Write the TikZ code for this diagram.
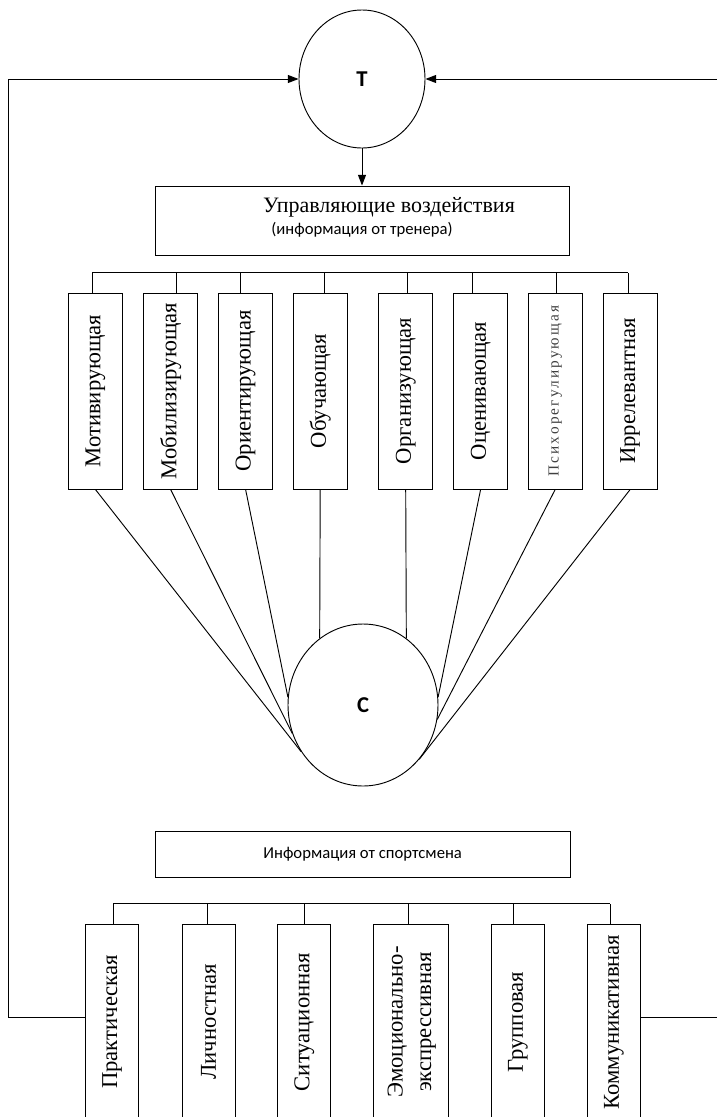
\documentclass[tikz,border=0pt]{standalone}
\usepackage{fontspec}
\setmainfont{Liberation Serif}
\newfontfamily\calibrifont{Carlito}
\newfontfamily\spacedfont[LetterSpace=14]{Liberation Serif}
\usepackage{graphicx}
\usetikzlibrary{arrows.meta,shapes.geometric,calc}

\tikzset{
  vbox/.style={draw, inner sep=0pt, minimum width=40.5pt, minimum height=147pt},
  hbox/.style={draw, inner sep=0pt, minimum width=311pt},
  oval/.style={draw, ellipse, inner sep=0pt},
  arr/.style={-{Triangle[length=8pt,width=6pt]}},
}
\newcommand{\vlabel}[1]{\rotatebox{90}{\fontsize{17}{21.5}\selectfont #1}}

\begin{document}
\begin{tikzpicture}[x=0.75pt,y=0.75pt,yscale=-1,xscale=1,line width=0.7pt]
\useasboundingbox (0,0) rectangle (717,1117);
\clip (0,0) rectangle (717,1117);

%Shape: Ellipse (trainer)
\node[oval, minimum width=94.5pt, minimum height=103.5pt] (T) at (362,79) {\calibrifont\bfseries\fontsize{17}{19}\selectfont Т};
%Shape: Rectangle
\node[hbox, minimum height=51.75pt] (ctrl) at (362.5,220.5) {};
% Text Node
\node (ctrlA) at (389,207) {\fontsize{16.5}{18}\selectfont Управляющие воздействия};
% Text Node
\node (ctrlB) at (362,230) {\calibrifont\fontsize{12.5}{14}\selectfont (информация от тренера)};
%Straight Lines
\draw[arr] (T.south) -- (T.south |- ctrl.north);

%Shape: Rectangle (upper row)
\foreach \n/\x/\txt in {1/95.4/Мотивирующая,2/170.6/Мобилизирующая,3/245.6/Ориентирующая,4/320.2/Обучающая,
    5/405.7/Организующая,6/480.6/Оценивающая,
    7/555.2/{{\spacedfont\fontsize{11.5}{14}\selectfont\color{black!75}Психорегулирующая}},8/630.2/Иррелевантная}
  \node[vbox] (m\n) at (\x,391) {\vlabel{\txt}};
%Straight Lines
\draw ($(m1.north)+(-3,-20)$) -- ($(m8.north)+(-2,-20)$);
\foreach \n/\dx in {1/-3,2/6,3/-5,4/4,5/2,6/-8,7/1,8/-2}
  \draw ($(m\n.north)+(\dx,0)$) -- ++(0,-20);

%Shape: Ellipse (athlete)
\node[oval, minimum width=112.5pt, minimum height=121.5pt] (C) at (363,705) {\calibrifont\bfseries\fontsize{17}{19}\selectfont С};
%Straight Lines
\foreach \n/\a in {1/217,2/202,3/174,4/123,5/57,6/6,7/349,8/316}
  \draw (m\n.south) -- (C.\a);

%Shape: Rectangle
\node[hbox, minimum height=34pt] (info) at (362.7,854.4) {\calibrifont\fontsize{12.5}{14}\selectfont Информация от спортсмена};

%Shape: Rectangle (lower row)
\foreach \n/\x/\txt in {1/112/Практическая,2/208.5/Личностная,3/304.3/Ситуационная,5/517.8/Групповая,6/614/Коммуникативная}
  \node[vbox, minimum width=39.75pt] (p\n) at (\x,1022) {\vlabel{\txt}};
\node[vbox, minimum width=56.25pt] (p4) at (411.1,1022) {\vlabel{\begin{tabular}{@{}c@{}}Эмоционально-\\экспрессивная\end{tabular}}};
%Straight Lines
\draw ($(p1.north)+(1,-20)$) -- ($(p6.north)+(-4,-20)$);
\foreach \n/\dx in {1/1,2/-1.5,3/0,4/-3,5/-4.5,6/-4}
  \draw ($(p\n.north)+(\dx,0)$) -- ++(0,-20);

%Straight Lines (feedback)
\coordinate (lturn) at (8,1017);
\coordinate (rturn) at (720,1017);
\draw[arr] (p1.west |- lturn) -- (lturn) |- (T.west);
\draw[arr] (p6.east |- rturn) -- (rturn) |- (T.east);

\end{tikzpicture}
\end{document}
